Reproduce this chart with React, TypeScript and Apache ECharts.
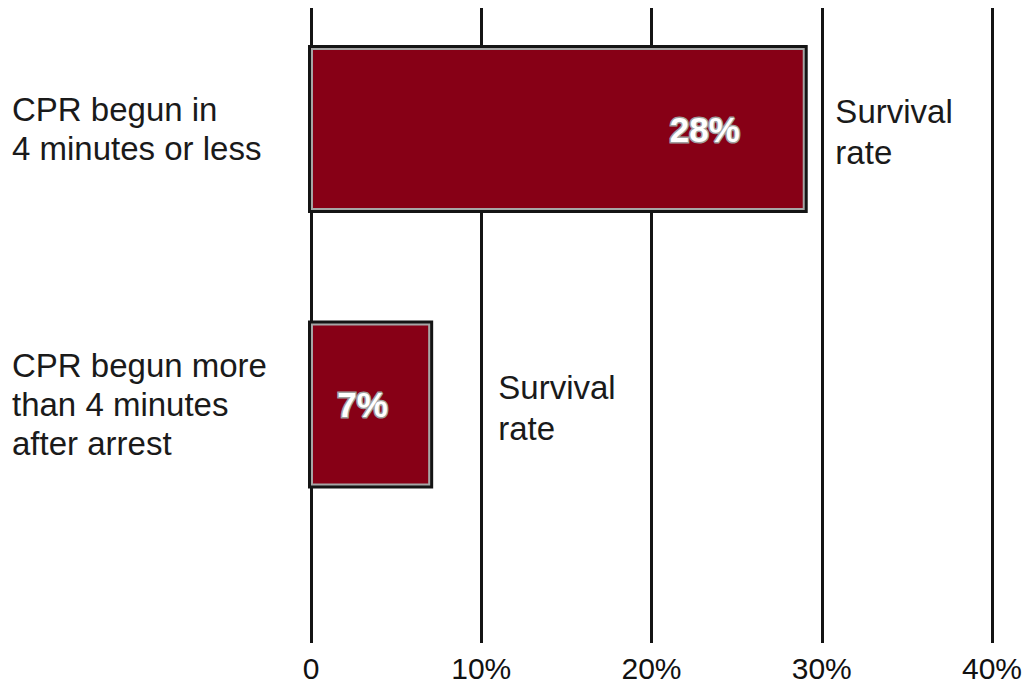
import React, { useEffect, useRef } from "react";
import * as echarts from "echarts";

const categories = ["CPR begun in\n4 minutes or less", "CPR begun more\nthan 4 minutes\nafter arrest"];
const barLengths = [29, 7];
const barLabels = ["28%", "7%"];
const labelOffsets = [147, -8];
const noteText = "Survival\nrate";
const noteX = [30.8, 11];
const tickValues = [0, 10, 20, 30, 40];

const FONT = '"Liberation Sans", Arial, sans-serif';
const BAR_W = 162;
const FRAME = 3;

export default function App() {
  const ref = useRef<HTMLDivElement>(null);
  useEffect(() => {
    if (!ref.current) return;
    const chart = echarts.init(ref.current, undefined, { renderer: "svg" });
    const grid = { left: 311, right: 39 };
    chart.setOption({
      animation: false,
      backgroundColor: "#ffffff",
      textStyle: { fontFamily: FONT },
      grid: [
        { ...grid, top: 129, height: 275.5 },
        { ...grid, top: 8, bottom: 49 },
      ],
      xAxis: [
        {
          gridIndex: 1,
          type: "value",
          min: tickValues[0],
          max: tickValues[tickValues.length - 1],
          interval: 10,
          axisLine: { show: false },
          axisTick: { show: false },
          splitLine: { show: true, lineStyle: { color: "#141414", width: 3 } },
          axisLabel: {
            margin: 10,
            fontSize: 30,
            color: "#111",
            fontFamily: FONT,
            formatter: (v: number) => (v === 0 ? "0" : v + "%"),
          },
        },
        {
          gridIndex: 0,
          type: "value",
          min: tickValues[0],
          max: tickValues[tickValues.length - 1],
          show: false,
          splitLine: { show: false },
        },
      ],
      yAxis: [
        {
          gridIndex: 0,
          type: "category",
          inverse: true,
          boundaryGap: false,
          data: categories,
          axisLine: { show: false },
          axisTick: { show: false },
          splitLine: { show: false },
          axisLabel: {
            align: "left",
            margin: 299,
            fontSize: 33,
            lineHeight: 39,
            color: "#1a1a1a",
            fontFamily: FONT,
          },
        },
        { gridIndex: 1, type: "value", show: false, splitLine: { show: false } },
      ],
      series: [
        {
          type: "custom",
          xAxisIndex: 1,
          yAxisIndex: 0,
          encode: { x: 0, y: 1 },
          data: barLengths.map((v, i) => [v, i]),
          renderItem: (params: any, api: any) => {
            const cat = api.value(1);
            const p0 = api.coord([0, cat]);
            const p1 = api.coord([api.value(0), cat]);
            const h = BAR_W + 2 * FRAME;
            return {
              type: "rect",
              shape: {
                x: p0[0] - FRAME,
                y: p0[1] - h / 2,
                width: p1[0] - p0[0] + 2 * FRAME,
                height: h,
              },
              style: { fill: "#141414" },
            };
          },
          z: 1,
        },
        {
          type: "bar",
          xAxisIndex: 1,
          yAxisIndex: 0,
          barWidth: BAR_W,
          data: barLengths.map((v, i) => ({
            value: v,
            label: { offset: [labelOffsets[i], 0] },
          })),
          itemStyle: { color: "#870016", borderColor: "#a6a6a6", borderWidth: 2 },
          label: {
            show: true,
            position: "inside",
            formatter: (p: any) => barLabels[p.dataIndex],
            color: "#ffffff",
            fontSize: 35,
            fontWeight: "bold",
            fontFamily: FONT,
            textBorderColor: "#a0a0a0",
            textBorderWidth: 3,
          },
          z: 3,
        },
        {
          type: "scatter",
          xAxisIndex: 1,
          yAxisIndex: 0,
          symbolSize: 0,
          itemStyle: { opacity: 1 },
          data: noteX.map((x, i) => [x, i]),
          label: {
            show: true,
            position: "right",
            distance: 0,
            offset: [0, 3],
            formatter: noteText,
            fontSize: 33,
            lineHeight: 41,
            color: "#1a1a1a",
            fontFamily: FONT,
          },
          z: 4,
        },
      ],
    });
    return () => chart.dispose();
  }, []);
  return (
    <div
      ref={ref}
      style={{ position: "fixed", left: 0, top: 0, width: 1031, height: 692 }}
    />
  );
}
